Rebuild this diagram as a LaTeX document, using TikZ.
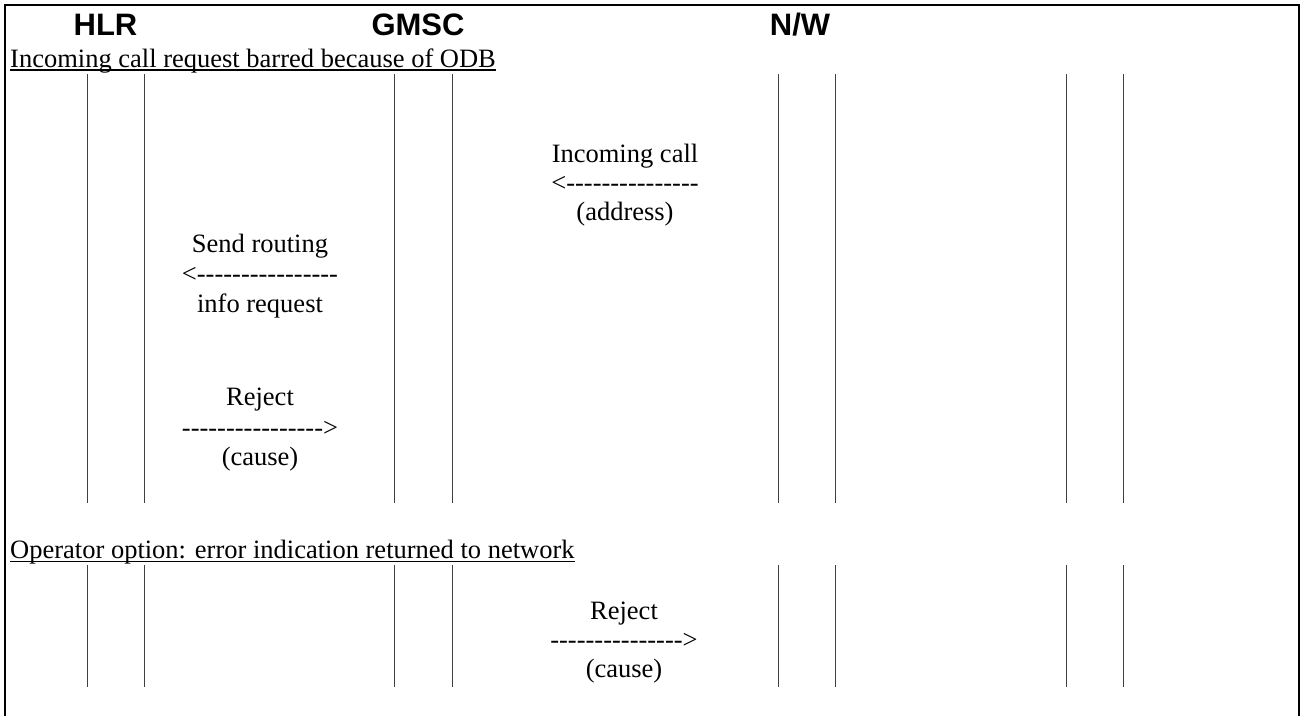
\documentclass[tikz,border=0pt]{standalone}
\usepackage{fontspec}
\setmainfont{Liberation Serif}
\newfontfamily\headfont{Liberation Sans}
% a run of plain hyphens, kept apart so that no dash ligature forms
\newcommand\dashrun[1]{\foreach\k in {1,...,#1}{-\kern0pt}}
\begin{document}
\begin{tikzpicture}[x=1pt,y=-1pt,
  head/.style={font=\headfont\bfseries\fontsize{31}{36}\selectfont, inner sep=0pt, anchor=base},
  msg/.style={font=\fontsize{26.5}{30}\selectfont, inner sep=0pt, anchor=base},
  sectiontitle/.style={font=\fontsize{26.5}{30}\selectfont, inner sep=0pt, anchor=base west},
  uline/.style={line width=1.3pt},
  lifeline/.style={draw=black!75, line width=1pt},
  frame/.style={line width=2pt}]
\useasboundingbox (0,0) rectangle (1300,715);

% outer frame (open at the foot)
\draw[frame] (5,720) -- (5,5) -- (1299,5) -- (1299,720);

% entity headings
\node[head] (hlr)  at (105.5,35) {HLR};
\node[head] (gmsc) at (418,35)   {GMSC};
\node[head] (nw)   at (800,35)   {N/W};

% section 1
\node[sectiontitle] (t1) at (10,67) {Incoming call request barred because of ODB};
\draw[uline] ([yshift=-3pt]t1.base west) -- ([yshift=-3pt]t1.base east);
\foreach \x in {87.5,144.5,394.5,452,778.5,835.5,1066.5,1123.5}
  \draw[lifeline] (\x,74) -- (\x,503);

\node[msg] (m1a) at (625,162) {Incoming call};
\node[msg] (m1b) at (625,191) {<\dashrun{15}};
\node[msg] (m1c) at (625,220) {(address)};

\node[msg] (m2a) at (260,252) {Send routing};
\node[msg] (m2b) at (260,282) {<\dashrun{16}};
\node[msg] (m2c) at (260,312) {info request};

\node[msg] (m3a) at (260,405) {Reject};
\node[msg] (m3b) at (260,436) {\dashrun{16}>};
\node[msg] (m3c) at (260,465) {(cause)};

% section 2
\node[sectiontitle] (t2) at (10,558) {Operator option: error indication returned to network};
\draw[uline] ([yshift=-3.5pt]t2.base west) -- ([yshift=-3.5pt]t2.base east);
\foreach \x in {87.5,144.5,394.5,452,778.5,835.5,1066.5,1123.5}
  \draw[lifeline] (\x,565) -- (\x,687);

\node[msg] (m4a) at (624,619) {Reject};
\node[msg] (m4b) at (624,648) {\dashrun{15}>};
\node[msg] (m4c) at (624,677) {(cause)};
\end{tikzpicture}
\end{document}
